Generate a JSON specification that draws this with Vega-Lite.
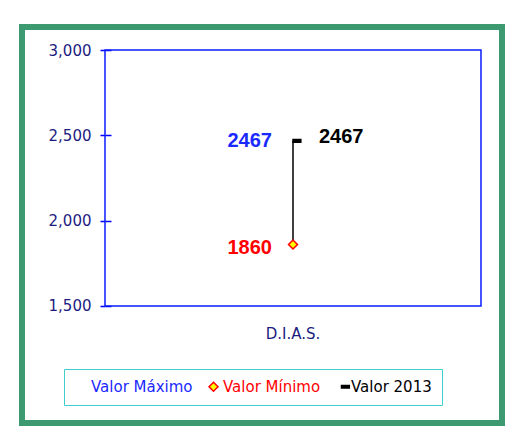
{
  "$schema": "https://vega.github.io/schema/vega-lite/v6.json",
  "width": 480,
  "height": 396,
  "autosize": {"type": "none"},
  "padding": {"left": 22, "top": 27, "right": 3, "bottom": 7},
  "background": "white",
  "config": {
    "view": {"stroke": "#3d9970", "strokeWidth": 6, "fill": "white"},
    "font": "DejaVu Sans"
  },
  "data": {
    "values": [
      {"cat": "D.I.A.S.", "serie": "Valor Máximo", "valor": 2467},
      {"cat": "D.I.A.S.", "serie": "Valor Mínimo", "valor": 1860},
      {"cat": "D.I.A.S.", "serie": "Valor 2013", "valor": 2467}
    ]
  },
  "resolve": {"axis": {"y": "independent"}},
  "layer": [
    {
      "data": {"values": [{}]},
      "mark": {"type": "rect", "fill": "transparent", "stroke": "#0a1eff", "strokeWidth": 1.5},
      "encoding": {
        "x": {
          "datum": "D.I.A.S.",
          "type": "nominal",
          "scale": {"type": "band", "paddingInner": 0, "paddingOuter": 0.1383, "align": 0.798},
          "axis": {
            "orient": "bottom",
            "offset": -117,
            "domain": false,
            "ticks": false,
            "grid": false,
            "labelAngle": 0,
            "labelPadding": 20,
            "labelFont": "DejaVu Sans",
            "labelFontSize": 15,
            "labelColor": "#1c1c80",
            "title": null
          }
        },
        "y": {
          "datum": 1500,
          "type": "quantitative",
          "scale": {"domain": [814.45, 3134.77], "nice": false, "zero": false},
          "axis": {
            "orient": "left",
            "offset": -83,
            "values": [1500, 2000, 2500, 3000],
            "labelExpr": "format(datum.value, ',')",
            "domain": false,
            "grid": false,
            "tickColor": "#0000ff",
            "tickWidth": 1.5,
            "tickSize": 5,
            "labelPadding": 9,
            "labelFont": "DejaVu Sans",
            "labelFontSize": 15,
            "labelColor": "#1c1c80",
            "title": null
          }
        },
        "y2": {"datum": 3000}
      }
    },
    {
      "mark": {"type": "rule", "color": "black", "strokeWidth": 1.5},
      "encoding": {
        "x": {"field": "cat", "type": "nominal"},
        "y": {"aggregate": "min", "field": "valor", "type": "quantitative", "axis": null},
        "y2": {"aggregate": "max", "field": "valor"}
      }
    },
    {
      "mark": {"type": "point", "filled": true, "size": 80, "strokeWidth": 1.5, "opacity": 1},
      "encoding": {
        "x": {"field": "cat", "type": "nominal"},
        "y": {
          "field": "valor",
          "type": "quantitative",
          "axis": {
            "orient": "right",
            "offset": -397,
            "values": [1500, 2000, 2500, 3000],
            "labels": false,
            "domain": false,
            "grid": false,
            "tickSize": 6,
            "tickColor": "#0000ff",
            "tickWidth": 1.5,
            "title": null
          }
        },
        "shape": {
          "field": "serie",
          "type": "nominal",
          "scale": {
            "domain": ["Valor Máximo", "Valor Mínimo", "Valor 2013"],
            "range": ["circle", "diamond", "M0,-0.3L1.75,-0.3L1.75,0.3L0,0.3Z"]
          },
          "legend": {
            "title": null,
            "orient": "none",
            "legendX": 42,
            "legendY": 342,
            "direction": "horizontal",
            "columns": 3,
            "padding": 10,
            "strokeColor": "#3fcfcf",
            "fillColor": "white",
            "labelFont": "DejaVu Sans",
            "labelFontSize": 15,
            "labelOffset": 2,
            "columnPadding": 13,
            "symbolSize": 80,
            "symbolStrokeWidth": 1.5,
            "labelColor": {"expr": "datum.value == 'Valor Máximo' ? '#1a2aff' : (datum.value == 'Valor Mínimo' ? '#ff0000' : '#000000')"},
            "encode": {
              "legend": {"update": {"strokeWidth": {"value": 2}}}
            }
          }
        },
        "fill": {
          "field": "serie",
          "type": "nominal",
          "scale": {
            "domain": ["Valor Máximo", "Valor Mínimo", "Valor 2013"],
            "range": ["transparent", "#ffff00", "#000000"]
          }
        },
        "stroke": {
          "field": "serie",
          "type": "nominal",
          "scale": {
            "domain": ["Valor Máximo", "Valor Mínimo", "Valor 2013"],
            "range": ["transparent", "#ff0000", "#000000"]
          }
        }
      }
    },
    {
      "transform": [{"filter": "datum.serie == 'Valor Máximo'"}],
      "mark": {"type": "text", "align": "right", "baseline": "middle", "dx": -21, "dy": 0, "font": "Liberation Sans", "fontSize": 20, "fontWeight": "bold", "color": "#1a2aff"},
      "encoding": {
        "x": {"field": "cat", "type": "nominal"},
        "y": {"field": "valor", "type": "quantitative", "axis": null},
        "text": {"field": "valor", "type": "quantitative", "format": "d"}
      }
    },
    {
      "transform": [{"filter": "datum.serie == 'Valor Mínimo'"}],
      "mark": {"type": "text", "align": "right", "baseline": "middle", "dx": -21, "dy": 3, "font": "Liberation Sans", "fontSize": 20, "fontWeight": "bold", "color": "#ff0000"},
      "encoding": {
        "x": {"field": "cat", "type": "nominal"},
        "y": {"field": "valor", "type": "quantitative", "axis": null},
        "text": {"field": "valor", "type": "quantitative", "format": "d"}
      }
    },
    {
      "transform": [{"filter": "datum.serie == 'Valor 2013'"}],
      "mark": {"type": "text", "align": "left", "baseline": "middle", "dx": 26, "dy": -3.5, "font": "Liberation Sans", "fontSize": 20, "fontWeight": "bold", "color": "#000000"},
      "encoding": {
        "x": {"field": "cat", "type": "nominal"},
        "y": {"field": "valor", "type": "quantitative", "axis": null},
        "text": {"field": "valor", "type": "quantitative", "format": "d"}
      }
    }
  ]
}
